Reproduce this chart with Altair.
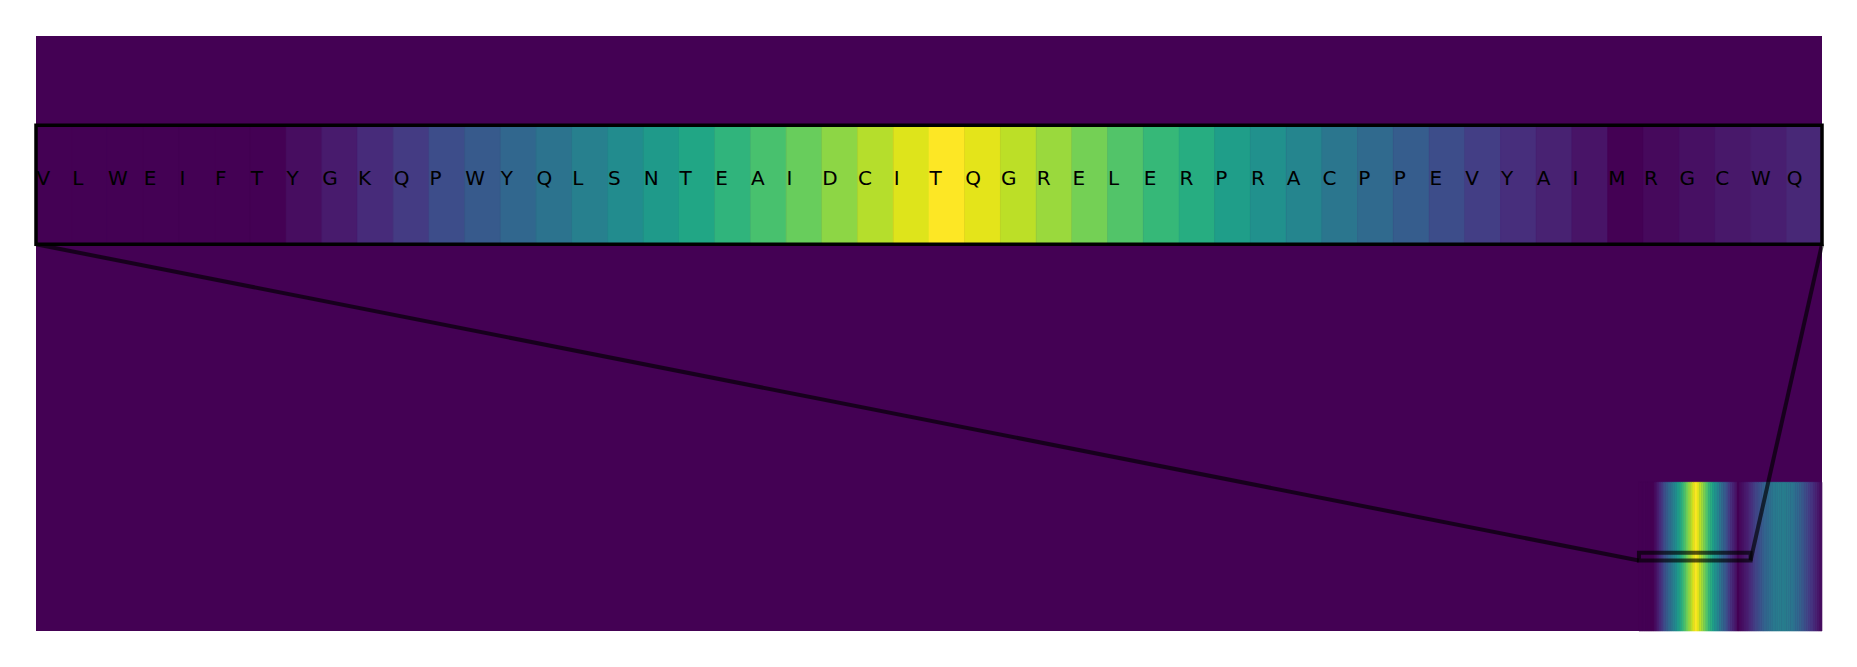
import altair as alt
import pandas as pd

# ---- data ----
N_COLS = 800          # columns of the main map
N_ROWS = 76           # rows of the main map
BLOCK_START_COL = 718 # first column of the non-zero block
BLOCK_START_ROW = 57  # first row of the non-zero block
ZOOM_ROW = 66         # row shown in the inset

letters = list("VLWEIFTYGKQPWYQLSNTEAIDCITQGRELERPRACPPEVYAIMRGCWQ")
inset_values = [0.0, 0.0, 0.0, 0.0, 0.0, 0.0, 0.0, 0.03, 0.07, 0.12,
                0.17, 0.23, 0.28, 0.33, 0.38, 0.43, 0.48, 0.54, 0.59, 0.65,
                0.71, 0.77, 0.83, 0.89, 0.95, 1.0, 0.96, 0.90, 0.85, 0.79,
                0.73, 0.67, 0.62, 0.56, 0.50, 0.45, 0.39, 0.34, 0.29, 0.23,
                0.18, 0.13, 0.09, 0.05, 0.0, 0.02, 0.04, 0.06, 0.08, 0.11]
tail_values = [0.14, 0.17, 0.20, 0.23, 0.26, 0.29, 0.32, 0.34, 0.36, 0.38,
               0.40, 0.41, 0.42, 0.42, 0.42, 0.42, 0.41, 0.40, 0.39, 0.37,
               0.35, 0.33, 0.30, 0.27, 0.24, 0.21, 0.18, 0.15, 0.12, 0.09,
               0.06, 0.03]

# inset placement in axes fraction (bottom, height)
INSET_BOTTOM_FRAC = 0.65
INSET_HEIGHT_FRAC = 0.20

# ---- build tables ----
block_vals = inset_values + tail_values
block = pd.DataFrame({
    "x": [BLOCK_START_COL + i for i in range(len(block_vals))],
    "x2": [BLOCK_START_COL + i + 1 for i in range(len(block_vals))],
    "y": BLOCK_START_ROW,
    "y2": N_ROWS,
    "v": block_vals,
})
bg = pd.DataFrame({"x": [0], "x2": [N_COLS], "y": [0], "y2": [N_ROWS], "v": [0.0]})

inset_top = (1 - INSET_BOTTOM_FRAC - INSET_HEIGHT_FRAC) * N_ROWS
inset_bot = (1 - INSET_BOTTOM_FRAC) * N_ROWS
cw = N_COLS / len(letters)
inset = pd.DataFrame({
    "x": [i * cw for i in range(len(letters))],
    "x2": [(i + 1) * cw for i in range(len(letters))],
    "y": inset_top,
    "y2": inset_bot,
    "yc": (inset_top + inset_bot) / 2,
    "v": inset_values,
    "letter": letters,
})
frame = pd.DataFrame({"x": [0], "x2": [N_COLS], "y": [inset_top], "y2": [inset_bot]})
zoom_x0 = BLOCK_START_COL
zoom_x1 = BLOCK_START_COL + len(letters)
indicator = pd.DataFrame({"x": [zoom_x0], "x2": [zoom_x1], "y": [ZOOM_ROW], "y2": [ZOOM_ROW + 1]})
connectors = pd.DataFrame({
    "x": [zoom_x0, zoom_x1], "y": [ZOOM_ROW + 1, ZOOM_ROW + 1],
    "x2": [0, N_COLS], "y2": [inset_bot, inset_bot],
})

xs = alt.Scale(domain=[0, N_COLS], nice=False, zero=False)
ys = alt.Scale(domain=[0, N_ROWS], nice=False, zero=False, reverse=True)
cs = alt.Scale(scheme="viridis", domain=[0, 1])
X = alt.X("x:Q", scale=xs, axis=None)
Y = alt.Y("y:Q", scale=ys, axis=None)

def heat(df):
    return alt.Chart(df).mark_rect(strokeWidth=0.6).encode(
        x=X, x2="x2:Q", y=Y, y2="y2:Q",
        color=alt.Color("v:Q", scale=cs, legend=None),
        stroke=alt.Stroke("v:Q", scale=cs, legend=None),
    )

bg_layer = alt.Chart(bg).mark_rect().encode(
    x=X, x2="x2:Q", y=Y, y2="y2:Q",
    color=alt.Color("v:Q", scale=cs, legend=None),
)
block_layer = heat(block)
indicator_layer = alt.Chart(indicator).mark_rect(
    fill=None, fillOpacity=0, stroke="black", strokeOpacity=0.65, strokeWidth=4
).encode(x=X, x2="x2:Q", y=Y, y2="y2:Q")
conn_layer = alt.Chart(connectors).mark_rule(
    color="black", opacity=0.65, strokeWidth=4
).encode(x=X, x2="x2:Q", y=Y, y2="y2:Q")
inset_layer = heat(inset)
frame_layer = alt.Chart(frame).mark_rect(
    fill=None, fillOpacity=0, stroke="black", strokeWidth=3.5
).encode(x=X, x2="x2:Q", y=Y, y2="y2:Q")
text_layer = alt.Chart(inset).mark_text(
    align="left", baseline="alphabetic", font="DejaVu Sans", fontSize=20, color="black", dx=0.5
).encode(x=X, y=alt.Y("yc:Q", scale=ys, axis=None), text="letter:N")

chart = alt.layer(
    bg_layer, block_layer, indicator_layer, conn_layer, inset_layer, frame_layer, text_layer
).properties(
    width=1786, height=595,
    padding={"left": 36, "top": 36, "right": 35, "bottom": 30},
    autosize=alt.AutoSizeParams(type="none"),
).configure_view(stroke=None)

chart.save("out.html", embed_options={"renderer": "svg", "actions": False})
